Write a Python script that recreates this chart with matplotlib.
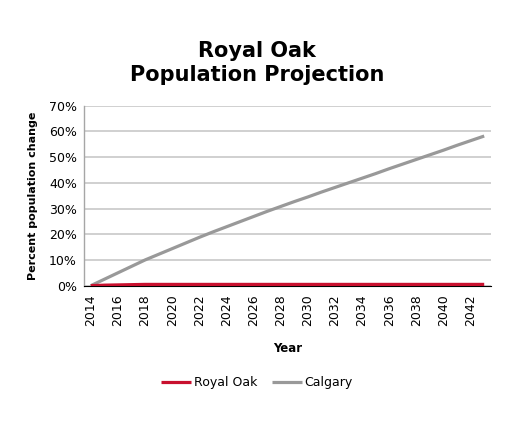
import matplotlib
matplotlib.use("Agg")
import matplotlib.pyplot as plt
from matplotlib.ticker import FuncFormatter

years = list(range(2014, 2044))
royal_oak = [0.0, 0.2, 0.3, 0.4, 0.5, 0.5, 0.5, 0.5, 0.5, 0.5,
             0.5, 0.5, 0.5, 0.5, 0.5, 0.5, 0.5, 0.5, 0.5, 0.5,
             0.5, 0.5, 0.5, 0.5, 0.5, 0.5, 0.5, 0.5, 0.5, 0.5]
calgary = [0.0, 2.5, 5.0, 7.5, 10.0, 12.2, 14.4, 16.6, 18.8, 20.9,
           22.9, 24.9, 26.9, 28.9, 30.8, 32.7, 34.5, 36.4, 38.2, 40.0,
           41.8, 43.6, 45.5, 47.3, 49.1, 50.9, 52.7, 54.6, 56.4, 58.2]
tick_years = list(range(2014, 2043, 2))

fig = plt.figure(figsize=(5.09, 4.25), dpi=100)
ax = fig.add_axes([0.165, 0.3278, 0.7996, 0.4235])

ax.plot(years, calgary, color="#999999", lw=2.3, label="Calgary", zorder=3, solid_capstyle="butt")
ax.plot(years, royal_oak, color="#C8102E", lw=2.3, label="Royal Oak", zorder=4, solid_capstyle="butt")

ax.set_xlim(2013.5, 2043.5)
ax.set_ylim(0, 70)
ax.set_yticks(range(0, 71, 10))
ax.yaxis.set_major_formatter(FuncFormatter(lambda v, p: f"{int(v)}%"))
ax.set_xticks(tick_years)
ax.set_xticklabels([str(y) for y in tick_years], rotation=90)
ax.tick_params(axis="both", labelsize=9, colors="#000000", length=0, pad=5)
ax.tick_params(axis="x", pad=6)
ax.grid(axis="y", color="#c8c8c8", lw=1.2)
ax.set_axisbelow(True)
for s in ["top", "right"]:
    ax.spines[s].set_visible(False)
ax.spines["left"].set_color("#a6a6a6")
ax.spines["bottom"].set_color("#000000")
ax.spines["left"].set_linewidth(1.0)

ax.set_ylabel("Percent population change", fontsize=8, fontweight="bold", labelpad=8)
ax.set_xlabel("Year", fontsize=8.5, fontweight="bold", labelpad=12)

fig.text(0.505, 0.852, "Royal Oak\nPopulation Projection", ha="center", va="center",
         fontsize=15, fontweight="bold", linespacing=1.3)

handles, labels = ax.get_legend_handles_labels()
order = [1, 0]
fig.legend([handles[i] for i in order], [labels[i] for i in order],
           loc="center", bbox_to_anchor=(0.505, 0.10), ncol=2, frameon=False,
           fontsize=9, handlelength=2.4, handletextpad=0.2, columnspacing=1.2)

fig.savefig("out.png", dpi=100)
